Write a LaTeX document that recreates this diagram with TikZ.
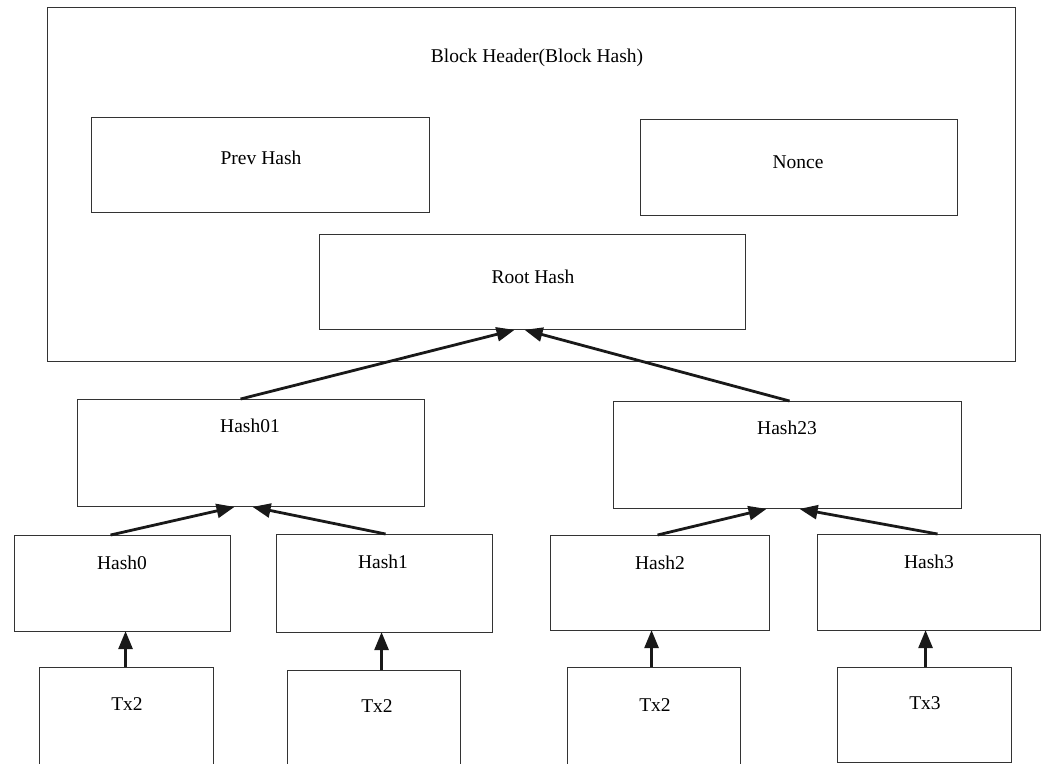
\documentclass[tikz,border=0pt]{standalone}
\usepackage{fontspec}
\setmainfont{Liberation Serif}
\usetikzlibrary{arrows.meta}
\begin{document}
\begin{tikzpicture}[x=1pt,y=-1pt,
  box/.style={draw=black!80,line width=1.1pt,inner sep=0pt,anchor=north west},
  lbl/.style={anchor=base,inner sep=0pt,font=\fontsize{19.5}{22}\selectfont},
  arr/.style={line width=2.8pt,draw=black!90,-{Triangle[length=18pt,width=14pt]},shorten >=-1pt}]
\useasboundingbox (0,0) rectangle (1043,763);
\clip (0,0) rectangle (1043,763);
% boxes
\node[box,minimum width=968pt,minimum height=354pt] (outer) at (47,7) {};
\node[box,minimum width=338pt,minimum height=95pt] (prev) at (91,117) {};
\node[box,minimum width=317pt,minimum height=96pt] (nonce) at (640,119) {};
\node[box,minimum width=426pt,minimum height=95pt] (root) at (319,234) {};
\node[box,minimum width=347pt,minimum height=107pt] (h01) at (77,399) {};
\node[box,minimum width=348pt,minimum height=107pt] (h23) at (613,401) {};
\node[box,minimum width=216pt,minimum height=96pt] (h0) at (14,535) {};
\node[box,minimum width=216pt,minimum height=98pt] (h1) at (276,534) {};
\node[box,minimum width=219pt,minimum height=95pt] (h2) at (550,535) {};
\node[box,minimum width=223pt,minimum height=96pt] (h3) at (817,534) {};
\node[box,minimum width=174pt,minimum height=120pt] (t0) at (39,667) {};
\node[box,minimum width=173pt,minimum height=120pt] (t1) at (287,670) {};
\node[box,minimum width=173pt,minimum height=120pt] (t2) at (567,667) {};
\node[box,minimum width=174pt,minimum height=95pt] (t3) at (837,667) {};
% labels
\node[lbl] (lhead) at (537,62) {Block Header(Block Hash)};
\node[lbl] (lprev) at (261,164) {Prev Hash};
\node[lbl] (lnonce) at (798,168) {Nonce};
\node[lbl] (lroot) at (533,283) {Root Hash};
\node[lbl] (l01) at (250,432) {Hash01};
\node[lbl] (l23) at (787,434) {Hash23};
\node[lbl] (l0) at (122,569) {Hash0};
\node[lbl] (l1) at (383,568) {Hash1};
\node[lbl] (l2) at (660,569) {Hash2};
\node[lbl] (l3) at (929,568) {Hash3};
\node[lbl] (lt0) at (127,710) {Tx2};
\node[lbl] (lt1) at (377,712) {Tx2};
\node[lbl] (lt2) at (655,711) {Tx2};
\node[lbl] (lt3) at (925,709) {Tx3};
% connectors
\draw[arr] ([xshift=-10.5pt]h01.north) -- ([xshift=-19pt]root.south);
\draw[arr] ([xshift=2pt]h23.north) -- ([xshift=-7pt]root.south);
\draw[arr] ([xshift=-12pt]h0.north) -- ([xshift=-17.5pt]h01.south);
\draw[arr] ([xshift=1pt]h1.north) -- ([xshift=2.5pt]h01.south);
\draw[arr] ([xshift=-2.5pt]h2.north) -- ([xshift=-22pt]h23.south);
\draw[arr] ([xshift=8.5pt]h3.north) -- ([xshift=13pt]h23.south);
\draw[arr] ([xshift=-1pt]t0.north) -- ([xshift=-1pt]t0.north |- h0.south);
\draw[arr] ([xshift=7.5pt]t1.north) -- ([xshift=7.5pt]t1.north |- h1.south);
\draw[arr] ([xshift=-2.5pt]t2.north) -- ([xshift=-2.5pt]t2.north |- h2.south);
\draw[arr] ([xshift=1pt]t3.north) -- ([xshift=1pt]t3.north |- h3.south);
\end{tikzpicture}
\end{document}
